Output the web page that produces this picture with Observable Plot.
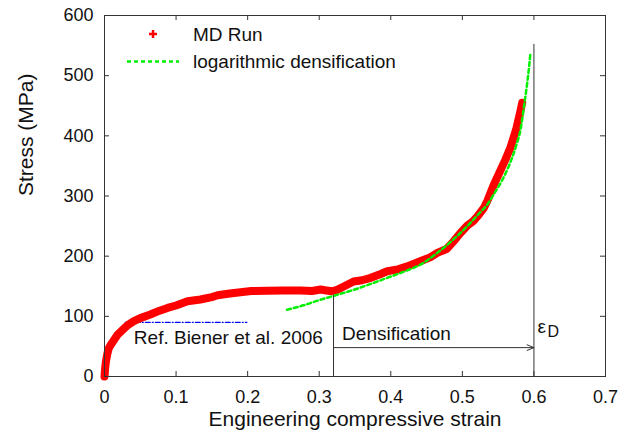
<!DOCTYPE html>
<html>
<head>
<meta charset="utf-8">
<script src="https://cdn.jsdelivr.net/npm/d3@7"></script>
<script src="https://cdn.jsdelivr.net/npm/@observablehq/plot@0.6"></script>
<style>
  body { margin: 0; background: #fff; }
  #chart { position: relative; width: 633px; height: 438px; font-family: "Liberation Sans", Arial, Helvetica, sans-serif; }
  #legend { position: absolute; left: 0; top: 0; pointer-events: none; }
</style>
</head>
<body>
<div id="chart"></div>
<script>
// ---- data ----
const mdStrain = [0, 0.001, 0.002, 0.004, 0.006, 0.01, 0.014, 0.018, 0.025, 0.032, 0.041, 0.05, 0.064, 0.076, 0.088, 0.1, 0.116, 0.134, 0.15, 0.158, 0.175, 0.19, 0.205, 0.227, 0.25, 0.274, 0.29, 0.302, 0.31, 0.318, 0.325, 0.335, 0.348, 0.36, 0.372, 0.385, 0.395, 0.41, 0.423, 0.442, 0.455, 0.465, 0.478, 0.488, 0.497, 0.507, 0.515, 0.521, 0.53, 0.535, 0.544, 0.553, 0.56, 0.567, 0.575, 0.58, 0.5836];
const mdStress = [0, 15, 25, 38, 47, 55, 62, 69, 77, 85, 92, 97, 103, 109, 114, 118, 125, 128, 132, 135, 138, 140, 142, 142.5, 143, 143, 142, 144.5, 143, 141.7, 144, 150, 158, 160, 164, 170, 175, 178, 183, 192, 198, 205.5, 212, 225, 238, 251, 258, 266, 280, 292, 319, 342, 360, 380, 410, 435, 455];

const logStrain = [0.255, 0.28, 0.3, 0.32, 0.348, 0.37, 0.395, 0.42, 0.4415, 0.46, 0.479, 0.495, 0.511, 0.525, 0.535, 0.545, 0.555, 0.565, 0.575, 0.582, 0.586, 0.59, 0.593, 0.595];
const logStress = [111, 119, 127, 134, 144, 153, 164, 175, 186, 201, 219, 236, 255, 273, 286, 305, 325, 350, 383, 415, 448, 482, 512, 536];

const refStrain = [0.029, 0.199];
const refStress = [90, 90];

const markerStrain = [0.32, 0.6];
const markerTop = [134, 552];
const arrowFrom = 0.32, arrowTo = 0.6, arrowStress = 48;

const xTicks = [0, 0.1, 0.2, 0.3, 0.4, 0.5, 0.6, 0.7];
const yTicks = [0, 100, 200, 300, 400, 500, 600];
const xTickLabels = ["0", "0.1", "0.2", "0.3", "0.4", "0.5", "0.6", "0.7"];

const seriesNames = ["MD Run", "logarithmic densification"];
const xLabel = "Engineering compressive strain";
const yLabel = "Stress (MPa)";
const annotations = [
  {text: "Ref. Biener et al. 2006", x: 0.041, y: 64},
  {text: "Densification", x: 0.332, y: 70}
];
const epsText = {text: "ε", x: 0.605, y: 83};
const epsSub = {text: "D", x: 0.619, y: 74};

// ---- build ----
const W = 633, H = 438;
const mL = 104, mR = 28, mT = 15, mB = 62;
const plotW = W - mL - mR, plotH = H - mT - mB;
const font = '"Liberation Sans", Arial, Helvetica, sans-serif';

const md = mdStrain.map((s, i) => ({s, v: mdStress[i]}));
const logd = logStrain.map((s, i) => ({s, v: logStress[i]}));
const ref = refStrain.map((s, i) => ({s, v: refStress[i]}));
const vlines = markerStrain.map((s, i) => ({s, top: markerTop[i]}));

const plot = Plot.plot({
  width: W, height: H,
  marginLeft: mL, marginRight: mR, marginTop: mT, marginBottom: mB,
  style: {fontFamily: font, color: "#111", background: "white"},
  x: {domain: [0, 0.7]},
  y: {domain: [0, 600]},
  marks: [
    // inward mirror ticks
    Plot.tickX(xTicks, {x: d => d, insetTop: plotH - 5, stroke: "#333"}),
    Plot.tickX(xTicks, {x: d => d, insetBottom: plotH - 5, stroke: "#333"}),
    Plot.tickY(yTicks, {y: d => d, insetRight: plotW - 5, stroke: "#333"}),
    Plot.tickY(yTicks, {y: d => d, insetLeft: plotW - 5, stroke: "#333"}),
    Plot.axisX({ticks: xTicks, tickSize: 0, tickPadding: 14, fontSize: 18, label: null,
      tickFormat: d => xTickLabels[xTicks.indexOf(d)]}),
    Plot.axisY({ticks: yTicks, tickSize: 0, tickPadding: 11, fontSize: 18, label: null}),
    Plot.text([xLabel], {frameAnchor: "bottom", lineAnchor: "middle", dy: 43, fontSize: 21, fill: "#111"}),
    Plot.text([yLabel], {frameAnchor: "left", lineAnchor: "middle", rotate: -90, dx: -78, fontSize: 21, fill: "#111"}),
    // reference line
    Plot.line(ref, {x: "s", y: "v", stroke: "#0000ff", strokeWidth: 1.2, strokeDasharray: "5,2,1,2"}),
    // MD run
    Plot.line(md, {x: "s", y: "v", stroke: "#ff0000", strokeWidth: 8, strokeLinecap: "round", strokeLinejoin: "round"}),
    // log densification
    Plot.line(logd, {x: "s", y: "v", stroke: "#00ee00", strokeWidth: 2.5, strokeDasharray: "4,3", curve: "monotone-x"}),
    // vertical markers
    Plot.ruleX(vlines, {x: "s", y1: 0, y2: "top", stroke: "#333", strokeWidth: 1}),
    Plot.arrow([{x1: arrowFrom, x2: arrowTo, y: arrowStress}], {x1: "x1", x2: "x2", y1: "y", y2: "y", stroke: "#333", strokeWidth: 1, headLength: 11, headAngle: 45}),
    Plot.text(annotations, {x: "x", y: "y", text: "text", textAnchor: "start", fontSize: 19, fill: "#111"}),
    Plot.text([epsText], {x: "x", y: "y", text: "text", textAnchor: "start", fontSize: 19, fill: "#111"}),
    Plot.text([epsSub], {x: "x", y: "y", text: "text", textAnchor: "start", fontSize: 16, fill: "#111"}),
    Plot.frame({stroke: "#333", strokeWidth: 1})
  ]
});
const chart = document.getElementById("chart");
chart.appendChild(plot);

// legend overlay
const leg = d3.select(chart).append("svg").attr("id", "legend").attr("width", W).attr("height", H);
const g0 = leg.append("g").attr("transform", "translate(153,34)");
g0.append("path").attr("d", "M-4,0H4M0,-4V4").attr("stroke", "#ff0000").attr("stroke-width", 2.5);
leg.append("line").attr("x1", 127).attr("x2", 179).attr("y1", 61.5).attr("y2", 61.5)
  .attr("stroke", "#00ee00").attr("stroke-width", 2.5).attr("stroke-dasharray", "4,3");
leg.selectAll("text.l").data(seriesNames).join("text").attr("class", "l")
  .attr("x", 193).attr("y", (d, i) => 34 + i * 27.5).attr("dy", "0.35em")
  .attr("font-family", font).attr("font-size", 19).attr("fill", "#111").text(d => d);
</script>
</body>
</html>
